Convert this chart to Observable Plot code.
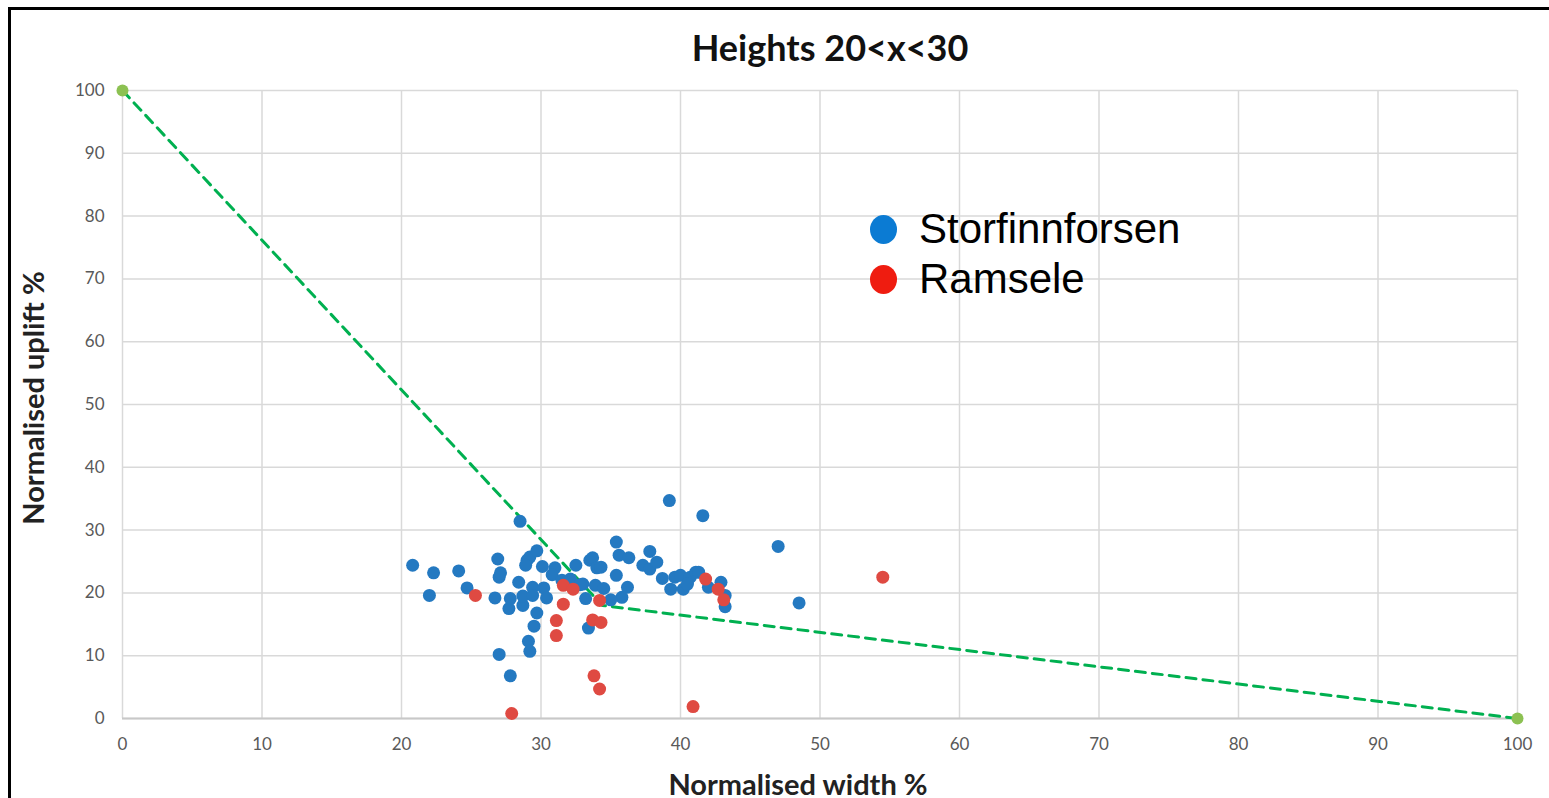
<!DOCTYPE html>
<html>
<head>
<meta charset="utf-8">
<script src="https://cdn.jsdelivr.net/npm/d3@7"></script>
<script src="https://cdn.jsdelivr.net/npm/@observablehq/plot@0.6"></script>
<style>
  html, body { margin: 0; padding: 0; background: #fff; width: 1549px; height: 798px; overflow: hidden; }
  #wrap { position: relative; width: 1549px; height: 798px; }
  #frame { position: absolute; left: 8px; top: 7px; width: 1560px; height: 820px; border-left: 3px solid #000; border-top: 3px solid #000; box-sizing: border-box; }
  #chart { position: absolute; left: 0; top: 0; }
  .title { position: absolute; left: 830px; top: 47px; transform: translate(-50%, -50%); font: bold 36px Lato, sans-serif; color: #111; white-space: nowrap; }
  .xlabel { position: absolute; left: 798px; top: 783px; transform: translate(-50%, -50%); font: bold 29px Lato, sans-serif; color: #222; white-space: nowrap; }
  .ylabel { position: absolute; left: 32px; top: 398px; transform: translate(-50%, -50%) rotate(-90deg); font: bold 29px Lato, sans-serif; color: #222; white-space: nowrap; }
  .legend { position: absolute; left: 870px; top: 204px; font: 42px "Liberation Sans", Arial, sans-serif; color: #000; }
  .legend .row { display: flex; align-items: center; height: 50px; }
  .legend .sw { width: 27px; height: 29px; border-radius: 50%; margin-right: 22px; }
</style>
</head>
<body>
<div id="wrap">
  <div id="frame"></div>
  <div id="chart"></div>
  <div class="title">Heights 20&lt;x&lt;30</div>
  <div class="xlabel">Normalised width %</div>
  <div class="ylabel">Normalised uplift %</div>
  <div class="legend" id="legend"></div>
</div>
<script>
// ---- Data ----
const xTicks = [0, 10, 20, 30, 40, 50, 60, 70, 80, 90, 100];
const yTicks = [0, 10, 20, 30, 40, 50, 60, 70, 80, 90, 100];

const seriesNames = ["Storfinnforsen", "Ramsele"];

const storX = [28.5, 20.8, 22.3, 22.0, 24.1, 24.7, 26.9, 27.0, 27.1, 26.7, 27.0, 27.8, 27.7, 27.8, 28.4, 28.7, 28.7,
  29.0, 29.2, 29.7, 28.9, 29.4, 29.4, 29.7, 29.5, 29.1, 29.2, 30.1, 30.2, 30.4, 31.0, 30.8, 32.1, 32.5, 33.0, 33.2,
  33.4, 33.5, 33.7, 34.0, 33.9, 34.5, 39.2, 41.6, 47.0, 48.5, 35.4, 35.6, 36.3, 35.4, 36.2, 35.8, 35.0, 34.3,
  37.8, 37.3, 37.8, 38.3, 38.7, 39.3, 39.6, 40.0, 40.2, 40.7, 41.1, 41.3, 40.5, 42.0, 42.9, 43.2, 43.2, 31.5, 32.8];
const storY = [31.4, 24.4, 23.2, 19.6, 23.5, 20.8, 25.4, 22.5, 23.2, 19.2, 10.2, 6.8, 17.5, 19.1, 21.7, 18.0, 19.5,
  25.2, 25.7, 26.7, 24.4, 20.9, 19.6, 16.8, 14.7, 12.3, 10.7, 24.2, 20.8, 19.2, 24.0, 22.9, 22.2, 24.4, 21.4, 19.1,
  14.4, 25.2, 25.6, 24.0, 21.2, 20.7, 34.7, 32.3, 27.4, 18.4, 28.1, 26.0, 25.6, 22.8, 20.9, 19.3, 18.9, 24.1,
  26.6, 24.4, 23.8, 24.9, 22.3, 20.6, 22.5, 22.8, 20.6, 22.5, 23.3, 23.3, 21.4, 20.9, 21.7, 19.6, 17.8, 22.0, 21.3];

const ramX = [25.3, 27.9, 31.6, 32.3, 31.6, 31.1, 31.1, 34.2, 33.7, 34.3, 33.8, 34.2, 41.8, 42.7, 43.1, 40.9, 54.5];
const ramY = [19.6, 0.8, 21.2, 20.6, 18.2, 15.6, 13.2, 18.8, 15.7, 15.3, 6.8, 4.7, 22.2, 20.6, 18.9, 1.9, 22.5];

// dashed reference line vertices
const lineX = [0, 34.4, 100];
const lineY = [100, 18.0, 0];
// end markers of the line
const endX = [0, 100];
const endY = [100, 0];

const colors = ["#2479c1", "#df4a42"];
const legendColors = ["#0b7bd3", "#ef1c10"];

// ---- Build tables ----
const stor = storX.map((x, i) => ({x, y: storY[i]}));
const ram = ramX.map((x, i) => ({x, y: ramY[i]}));
const line = lineX.map((x, i) => ({x, y: lineY[i]}));
const ends = endX.map((x, i) => ({x, y: endY[i]}));

const chart = Plot.plot({
  width: 1549,
  height: 798,
  marginLeft: 122,
  marginRight: 32,
  marginTop: 90,
  marginBottom: 80,
  style: { fontFamily: "Lato, sans-serif", fontSize: "18px", color: "#595959", background: "transparent" },
  x: { domain: [0, 100], label: null },
  y: { domain: [0, 100], label: null },
  marks: [
    Plot.gridX(xTicks, { stroke: "#d9d9d9", strokeOpacity: 1, strokeWidth: 1.5 }),
    Plot.gridY(yTicks, { stroke: "#d9d9d9", strokeOpacity: 1, strokeWidth: 1.5 }),
    Plot.ruleY([0], { stroke: "#c8c8c8", strokeWidth: 2 }),
    Plot.axisX(xTicks, { tickSize: 0, tickPadding: 19, fill: "#595959", fontSize: 17 }),
    Plot.axisY(yTicks, { tickSize: 0, tickPadding: 18, fill: "#595959", fontSize: 17 }),
    Plot.line(line, { x: "x", y: "y", stroke: "#00b050", strokeWidth: 3, strokeDasharray: "10,7" }),
    Plot.dot(stor, { x: "x", y: "y", r: 6.5, fill: colors[0] }),
    Plot.dot(ram, { x: "x", y: "y", r: 6.5, fill: colors[1] }),
    Plot.dot(ends, { x: "x", y: "y", r: 6, fill: "#8cc152" })
  ]
});
document.getElementById("chart").appendChild(chart);

// legend
const leg = document.getElementById("legend");
seriesNames.forEach((name, i) => {
  const row = document.createElement("div");
  row.className = "row";
  const sw = document.createElement("div");
  sw.className = "sw";
  sw.style.background = legendColors[i];
  const t = document.createElement("span");
  t.textContent = name;
  row.appendChild(sw);
  row.appendChild(t);
  leg.appendChild(row);
});
</script>
</body>
</html>
